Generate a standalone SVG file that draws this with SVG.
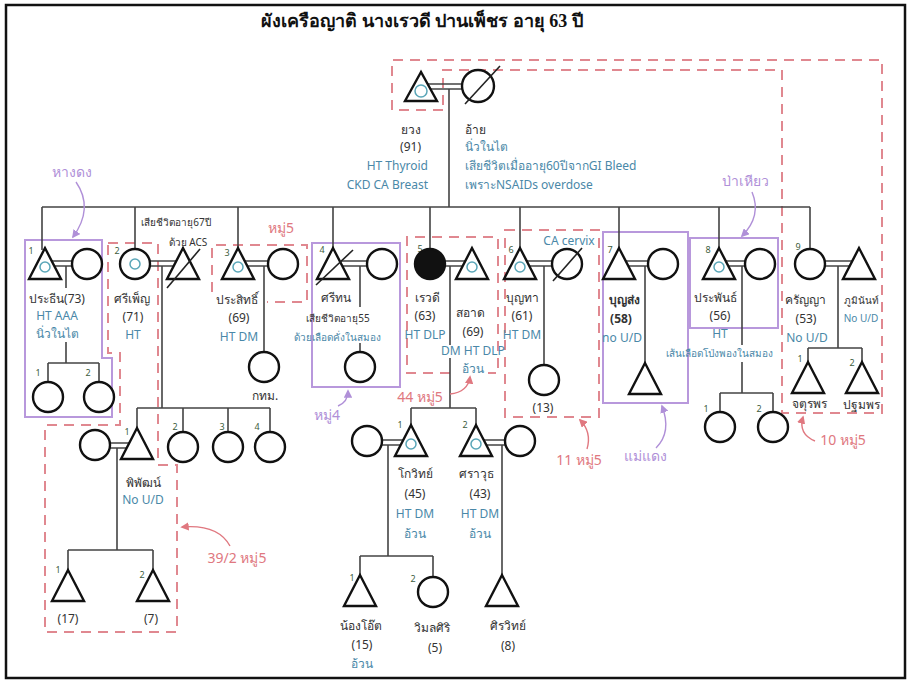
<svg xmlns="http://www.w3.org/2000/svg" width="910" height="684" viewBox="0 0 910 684">
<defs>
<style>
.s{fill:#fff;stroke:#111;stroke-width:2.4}
.f{fill:#111;stroke:#111;stroke-width:2.4}
.in{fill:none;stroke:#5aa6b8;stroke-width:1.5}
.sl{fill:none;stroke:#222;stroke-width:1.6}
.ln{fill:none;stroke:#444;stroke-width:1.6}
.rd{fill:none;stroke:#e08890;stroke-width:2;stroke-dasharray:10 7}
.pu{fill:none;stroke:#b898dc;stroke-width:2}
.ar{fill:none;stroke-width:1.4}
.t{font-family:"Noto Sans","DejaVu Sans",sans-serif;font-size:12px;fill:#333;text-anchor:middle}
.b{fill:#4a88a8}
.r{fill:#e07880;font-size:14px}
.p{fill:#b090d8;font-size:14px}
.n{font-size:9px;fill:#3d5d3d}
.sm{font-size:10px}
</style>
<marker id="ar" viewBox="0 0 10 10" refX="8" refY="5" markerWidth="6" markerHeight="6" orient="auto"><path d="M0,0 L10,5 L0,10 z" fill="#e07880"/></marker>
<marker id="ap" viewBox="0 0 10 10" refX="8" refY="5" markerWidth="6" markerHeight="6" orient="auto"><path d="M0,0 L10,5 L0,10 z" fill="#b090d8"/></marker>
</defs>
<rect x="0" y="0" width="910" height="684" fill="#fff"/>
<rect x="6" y="5" width="899" height="673" fill="none" stroke="#111" stroke-width="2.5"/>
<text x="422" y="27" style="font-family:'Liberation Serif','Noto Serif',serif;font-size:18px;font-weight:bold;fill:#111;text-anchor:middle">ผังเครือญาติ นางเรวดี ปานเพ็ชร อายุ 63 ปี</text>

<!-- group boxes -->
<g id="boxes">
<path class="rd" d="M443,110 H392 V60 H882 V413 H782 V70 H443 Z"/>
<path class="pu" d="M25,240 H102 V358 H112 V417 H25 Z"/>
<path class="rd" d="M108,243 H158 V465 H177 V632 H45 V425 H120 V353 H108 Z"/>
<path class="rd" d="M212,292 V245 H307 V302 H267"/>
<rect class="pu" x="312" y="243" width="88" height="144"/>
<path class="rd" d="M450,373 H407 V237 H498 V373 H488"/>
<rect class="rd" x="505" y="230" width="94" height="187"/>
<rect class="pu" x="603" y="232" width="85" height="171"/>
<rect class="pu" x="690" y="238" width="88" height="90"/>
</g>

<!-- connectors -->
<g id="connectors">
<path class="ln" d="M428,84 H462 M428,89 H462 M449,89 V207"/>
<path class="ln" d="M42,207 H810 M42,207 V250 M135,207 V249 M238,207 V248 M333,207 V248 M430,207 V249 M520,207 V248 M619,207 V248 M719,207 V248 M810,207 V249"/>
<!-- sib1 -->
<path class="ln" d="M52,261 H72 M52,266 H72 M66,266 V288 M66,342 V363 M48,363 H99 M48,363 V382 M99,363 V382"/>
<!-- sib2 -->
<path class="ln" d="M150,261 H176 M150,266 H176 M162,266 V408 M137,408 H270 M137,408 V428 M183,408 V432 M228,408 V432 M270,408 V432"/>
<path class="ln" d="M110,443 H129 M110,448 H129 M117,448 V550 M68,550 H153 M68,550 V570 M153,550 V570"/>
<!-- sib3 -->
<path class="ln" d="M245,261 H268 M245,266 H268 M264,266 V352"/>
<!-- sib4 -->
<path class="ln" d="M341,261 H367 M341,266 H367 M360,266 V307 M360,343 V352"/>
<!-- sib5 -->
<path class="ln" d="M445,261 H465 M445,266 H465 M450,266 V345 M450,358 V408 M411,408 H476 M411,408 V425 M476,408 V425"/>
<path class="ln" d="M382,440 H404 M382,445 H404 M388,445 V556 M360,556 H433 M360,556 V575 M433,556 V577"/>
<path class="ln" d="M483,440 H505 M483,445 H505 M502,445 V575"/>
<!-- sib6 -->
<path class="ln" d="M527,261 H552 M527,266 H552 M544,266 V365"/>
<!-- sib7 -->
<path class="ln" d="M626,261 H648 M626,266 H648 M645,266 V363"/>
<!-- sib8 -->
<path class="ln" d="M726,261 H745 M726,266 H745 M742,266 V345 M742,362 V393 M720,393 H773 M720,393 V412 M773,393 V412"/>
<!-- sib9 -->
<path class="ln" d="M825,261 H852 M825,266 H852 M838,266 V348 M808,348 H862 M808,348 V362 M862,348 V362"/>
<!-- annotation arrows -->
<path class="ar" stroke="#b090d8" marker-end="url(#ap)" d="M76,182 Q94,208 73,237"/>
<path class="ar" stroke="#b090d8" marker-end="url(#ap)" d="M338,406 Q348,402 348,391"/>
<path class="ar" stroke="#b090d8" marker-end="url(#ap)" d="M656,448 Q672,432 662,406"/>
<path class="ar" stroke="#b090d8" marker-end="url(#ap)" d="M752,192 Q762,216 742,236"/>
<path class="ar" stroke="#e07880" marker-end="url(#ar)" d="M450,394 Q468,392 470,377"/>
<path class="ar" stroke="#e07880" marker-end="url(#ar)" d="M587,449 Q592,432 580,420"/>
<path class="ar" stroke="#e07880" marker-end="url(#ar)" d="M230,546 Q218,524 182,527"/>
<path class="ar" stroke="#e07880" marker-end="url(#ar)" d="M815,441 Q798,434 803,417"/>
</g>

<!-- generation 1 -->
<g id="yuang"><polygon class="s" points="421,72 405,101 437,101"/><circle class="in" cx="421" cy="91" r="6"/>
<text class="t" x="421" y="134" style="text-anchor:end">ยวง</text><text class="t" x="421" y="151" style="text-anchor:end">(91)</text>
<text class="t b" x="428" y="170" style="text-anchor:end">HT Thyroid</text><text class="t b" x="428" y="189" style="text-anchor:end">CKD CA Breast</text></g>
<g id="ai"><circle class="s" cx="478" cy="86" r="16"/><line class="sl" x1="465" y1="104" x2="500" y2="66"/>
<text class="t" x="465" y="134" style="text-anchor:start">อ้าย</text><text class="t b" x="465" y="151" style="text-anchor:start">นิ่วในไต</text>
<text class="t b" x="465" y="170" style="text-anchor:start">เสียชีวิตเมื่ออายุ60ปีจากGI Bleed</text><text class="t b" x="465" y="189" style="text-anchor:start">เพราะNSAIDs overdose</text></g>

<!-- generation 2 -->
<g id="sib1"><text class="t n" x="31" y="254">1</text><polygon class="s" points="45,248 29,279 61,279"/><circle class="in" cx="45" cy="267" r="5"/>
<circle class="s" cx="87" cy="264" r="15"/>
<text class="t" x="57" y="303">ประธีน(73)</text><text class="t b" x="57" y="320">HT AAA</text><text class="t b" x="57" y="338">นิ่วในไต</text></g>
<g id="sib1c1"><text class="t n" x="38" y="376">1</text><circle class="s" cx="48" cy="397" r="15"/></g>
<g id="sib1c2"><text class="t n" x="88" y="376">2</text><circle class="s" cx="99" cy="397" r="15"/></g>

<g id="sib2"><text class="t n" x="117" y="254">2</text><circle class="s" cx="135" cy="264" r="15"/><circle class="in" cx="135" cy="264" r="5"/>
<text class="t" x="132" y="303">ศรีเพ็ญ</text><text class="t" x="133" y="321">(71)</text><text class="t b" x="133" y="339">HT</text></g>
<g id="sib2h"><polygon class="s" points="183,248 167,279 199,279"/><line class="sl" x1="167" y1="288" x2="200" y2="249"/>
<text class="t sm" x="176" y="226">เสียชีวิตอายุ67ปี</text><text class="t sm" x="188" y="246">ด้วย ACS</text></g>
<g id="pipat"><text class="t n" x="127" y="435">1</text><polygon class="s" points="137,428 121,459 153,459"/>
<text class="t" x="143" y="487">พิพัฒน์</text><text class="t b" x="143" y="504">No U/D</text></g>
<g id="pipatw"><circle class="s" cx="95" cy="445" r="15"/></g>
<g id="sib2c2"><text class="t n" x="175" y="430">2</text><circle class="s" cx="183" cy="447" r="15"/></g>
<g id="sib2c3"><text class="t n" x="222" y="430">3</text><circle class="s" cx="228" cy="447" r="15"/></g>
<g id="sib2c4"><text class="t n" x="257" y="430">4</text><circle class="s" cx="270" cy="447" r="15"/></g>
<g id="pipatc1"><text class="t n" x="58" y="573">1</text><polygon class="s" points="68,570 52,601 84,601"/><text class="t" x="68" y="623">(17)</text></g>
<g id="pipatc2"><text class="t n" x="142" y="578">2</text><polygon class="s" points="153,570 137,601 169,601"/><text class="t" x="151" y="623">(7)</text></g>

<g id="sib3"><text class="t n" x="227" y="256">3</text><polygon class="s" points="238,248 222,279 254,279"/><circle class="in" cx="238" cy="267" r="5"/>
<circle class="s" cx="283" cy="264" r="15"/>
<text class="t" x="237" y="304">ประสิทธิ์</text><text class="t" x="239" y="322">(69)</text><text class="t b" x="239" y="341">HT DM</text></g>
<g id="sib3c"><circle class="s" cx="264" cy="367" r="15"/><text class="t" x="265" y="400">กทม.</text></g>

<g id="sib4"><text class="t n" x="322" y="253">4</text><polygon class="s" points="333,248 317,279 349,279"/><line class="sl" x1="316" y1="285" x2="353" y2="250"/>
<circle class="s" cx="382" cy="264" r="15"/>
<text class="t" x="336" y="302">ศรีทน</text><text class="t sm" x="338" y="322">เสียชีวิตอายุ55</text><text class="t b sm" x="337" y="341">ด้วยเลือดคั่งในสมอง</text></g>
<g id="sib4c"><circle class="s" cx="360" cy="367" r="15"/></g>

<g id="sib5"><text class="t n" x="420" y="252">5</text><circle class="f" cx="430" cy="264" r="15"/>
<text class="t" x="427" y="302">เรวดี</text><text class="t" x="425" y="320">(63)</text><text class="t b" x="425" y="339">HT DLP</text></g>
<g id="sib5h"><polygon class="s" points="472,248 456,279 488,279"/><circle class="in" cx="472" cy="267" r="5"/>
<text class="t" x="470" y="317">สอาด</text><text class="t" x="473" y="336">(69)</text><text class="t b" x="473" y="355">DM HT DLP</text><text class="t b" x="473" y="373">อ้วน</text></g>
<g id="kowit"><text class="t n" x="400" y="428">1</text><polygon class="s" points="411,425 395,456 427,456"/><circle class="in" cx="411" cy="444" r="5"/>
<text class="t" x="415" y="478">โกวิทย์</text><text class="t" x="415" y="498">(45)</text><text class="t b" x="415" y="518">HT DM</text><text class="t b" x="415" y="538">อ้วน</text></g>
<g id="kowitw"><circle class="s" cx="367" cy="441" r="15"/></g>
<g id="sarawut"><text class="t n" x="465" y="428">2</text><polygon class="s" points="476,425 460,456 492,456"/><circle class="in" cx="476" cy="444" r="5"/>
<text class="t" x="476" y="478">ศราวุธ</text><text class="t" x="480" y="498">(43)</text><text class="t b" x="480" y="518">HT DM</text><text class="t b" x="480" y="538">อ้วน</text></g>
<g id="sarawutw"><circle class="s" cx="520" cy="441" r="15"/></g>
<g id="nongot"><text class="t n" x="352" y="581">1</text><polygon class="s" points="360,575 344,606 376,606"/>
<text class="t" x="361" y="630">น้องโอ๊ต</text><text class="t" x="362" y="649">(15)</text><text class="t b" x="362" y="668">อ้วน</text></g>
<g id="wimonsiri"><text class="t n" x="413" y="582">2</text><circle class="s" cx="433" cy="592" r="15"/>
<text class="t" x="432" y="632">วิมลศิริ</text><text class="t" x="435" y="652">(5)</text></g>
<g id="siriwit"><polygon class="s" points="502,575 486,606 518,606"/>
<text class="t" x="508" y="630">ศิรวิทย์</text><text class="t" x="508" y="650">(8)</text></g>

<g id="sib6"><text class="t n" x="511" y="253">6</text><polygon class="s" points="520,248 504,279 536,279"/><circle class="in" cx="520" cy="267" r="5"/>
<text class="t" x="522" y="302">บุญทา</text><text class="t" x="522" y="320">(61)</text><text class="t b" x="522" y="339">HT DM</text></g>
<g id="sib6w"><circle class="s" cx="567" cy="264" r="15"/><line class="sl" x1="553" y1="281" x2="582" y2="248"/>
<text class="t b" x="569" y="245">CA cervix</text></g>
<g id="sib6c"><circle class="s" cx="544" cy="380" r="15"/><text class="t" x="543" y="412">(13)</text></g>

<g id="sib7"><text class="t n" x="610" y="253">7</text><polygon class="s" points="619,248 603,279 635,279"/>
<circle class="s" cx="663" cy="264" r="15"/>
<text class="t" x="624" y="304" style="font-weight:bold">บุญส่ง</text><text class="t" x="621" y="323" style="font-weight:bold">(58)</text><text class="t b" x="622" y="342">no U/D</text></g>
<g id="sib7c"><polygon class="s" points="645,363 629,394 661,394"/></g>

<g id="sib8"><text class="t n" x="708" y="253">8</text><polygon class="s" points="719,248 703,279 735,279"/><circle class="in" cx="719" cy="267" r="5"/>
<circle class="s" cx="760" cy="264" r="15"/>
<text class="t" x="715" y="302">ประพันธ์</text><text class="t" x="720" y="320">(56)</text><text class="t b" x="720" y="338">HT</text><text class="t b sm" x="719" y="357">เส้นเลือดโป่งพองในสมอง</text></g>
<g id="sib8c1"><text class="t n" x="706" y="412">1</text><circle class="s" cx="720" cy="427" r="15"/></g>
<g id="sib8c2"><text class="t n" x="759" y="412">2</text><circle class="s" cx="773" cy="427" r="15"/></g>

<g id="sib9"><text class="t n" x="798" y="250">9</text><circle class="s" cx="810" cy="264" r="15"/>
<text class="t" x="805" y="304">ครัญญา</text><text class="t" x="806" y="323">(53)</text><text class="t b" x="807" y="342">No U/D</text></g>
<g id="sib9h"><polygon class="s" points="859,248 843,279 875,279"/>
<text class="t sm" x="861" y="304">ภูมินันท์</text><text class="t b sm" x="861" y="322">No U/D</text></g>
<g id="jaturaporn"><text class="t n" x="800" y="362">1</text><polygon class="s" points="808,362 792,393 824,393"/><text class="t" x="809" y="408">จตุรพร</text></g>
<g id="pathomporn"><text class="t n" x="852" y="366">2</text><polygon class="s" points="862,362 846,393 878,393"/><text class="t" x="861" y="409">ปฐมพร</text></g>

<!-- labels -->
<g id="labels">
<text class="t p" x="72" y="177">หางดง</text>
<text class="t r" x="281" y="233">หมู่5</text>
<text class="t p" x="327" y="420">หมู่4</text>
<text class="t r" x="420" y="402">44 หมู่5</text>
<text class="t r" x="579" y="465">11 หมู่5</text>
<text class="t p" x="645" y="461">แม่แดง</text>
<text class="t p" x="745" y="186">ป่าเหียว</text>
<text class="t r" x="843" y="445">10 หมู่5</text>
<text class="t r" x="237" y="563">39/2 หมู่5</text>
</g>
</svg>
